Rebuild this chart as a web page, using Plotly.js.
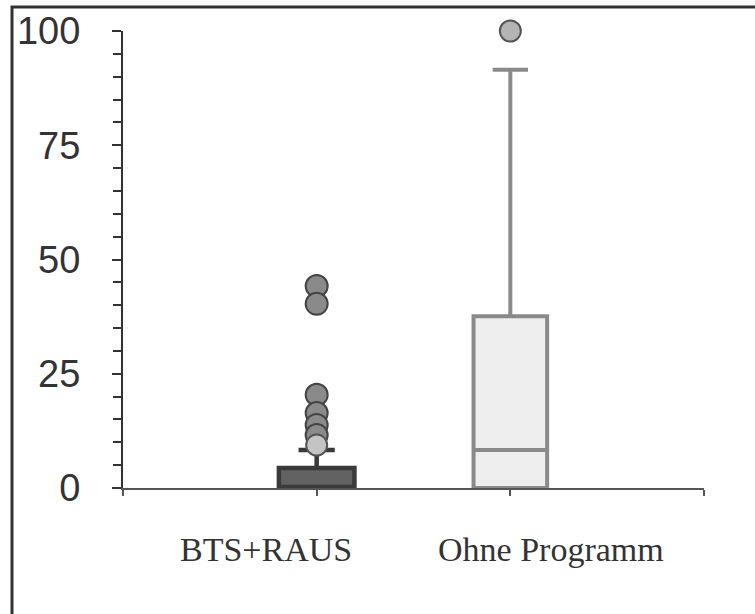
<!DOCTYPE html>
<html>
<head>
<meta charset="utf-8">
<script src="https://cdn.plot.ly/plotly-3.0.1.min.js"></script>
<style>html,body{margin:0;padding:0;background:#fff;}#chart{width:755px;height:614px;}</style>
</head>
<body>
<div id="chart"></div>
<script>
var categories = ['BTS+RAUS', 'Ohne Programm'];
var positions = [1, 2];
var q1 = [0, 0];
var median = [0, 8.3];
var q3 = [4.4, 37.6];
var lowerfence = [0, 0];
var upperfence = [8.3, 91.5];
var outliersBTS = [44.2, 40.3, 20.4, 16.4, 13.8, 11.6];
var outliersBTSLight = [9.4];
var outliersOhne = [100];
var yTicks = [0, 25, 50, 75, 100];

var traces = [
  {type: 'box', x: [positions[0]], q1: [q1[0]], median: [median[0]], q3: [q3[0]],
   lowerfence: [lowerfence[0]], upperfence: [upperfence[0]], width: 0.39,
   fillcolor: '#626262', line: {color: '#3a3a3a', width: 4.5}, whiskerwidth: 0.48,
   boxpoints: false, hoverinfo: 'none', name: categories[0]},
  {type: 'box', x: [positions[1]], q1: [q1[1]], median: [median[1]], q3: [q3[1]],
   lowerfence: [lowerfence[1]], upperfence: [upperfence[1]], width: 0.38,
   fillcolor: '#eeeeee', line: {color: '#8a8a8a', width: 4}, whiskerwidth: 0.48,
   boxpoints: false, hoverinfo: 'none', name: categories[1]},
  {type: 'scatter', mode: 'markers', x: outliersBTS.map(function(){return positions[0];}), y: outliersBTS,
   marker: {size: 22, color: '#8a8a8a', line: {color: '#444', width: 2}}, cliponaxis: false, hoverinfo: 'none'},
  {type: 'scatter', mode: 'markers', x: outliersBTSLight.map(function(){return positions[0];}), y: outliersBTSLight,
   marker: {size: 21, color: '#c4c4c4', line: {color: '#555', width: 2}}, cliponaxis: false, hoverinfo: 'none'},
  {type: 'scatter', mode: 'markers', x: outliersOhne.map(function(){return positions[1];}), y: outliersOhne,
   marker: {size: 21, color: '#b4b4b4', line: {color: '#555', width: 2}}, cliponaxis: false, hoverinfo: 'none'}
];

var W = 581, H = 457, L = 123, T = 31;
function px(x){return (x - L) / W;}
function py(y){return (T + H - y) / H;}

var layout = {
  width: 755, height: 614,
  margin: {l: L, r: 755 - L - W, t: T, b: 614 - T - H, pad: 0},
  paper_bgcolor: '#ffffff', plot_bgcolor: '#ffffff',
  showlegend: false,
  xaxis: {range: [0, 3], tickvals: [0, 1, 2, 3], ticktext: ['', '', '', ''],
    showgrid: false, zeroline: false, showline: true, linecolor: '#555', linewidth: 2,
    ticks: 'outside', ticklen: 6, tickwidth: 2, tickcolor: '#555', fixedrange: true},
  yaxis: {range: [0, 100], tickvals: yTicks, ticktext: yTicks.map(String),
    showgrid: false, zeroline: false, showline: true, linecolor: '#333', linewidth: 2,
    ticks: 'outside', ticklen: 9, tickwidth: 2, tickcolor: '#333',
    minor: {dtick: 5, tick0: 0, ticks: 'outside', ticklen: 8, tickwidth: 2, tickcolor: '#333'},
    ticklabelstandoff: 24,
    tickfont: {family: 'Liberation Sans, Arial, sans-serif', size: 38, color: '#333'}, fixedrange: true},
  annotations: [
    {text: categories[0], xref: 'paper', yref: 'paper', x: px(266), y: py(549), xanchor: 'center', yanchor: 'middle',
     showarrow: false, font: {family: 'Liberation Serif, Times New Roman, serif', size: 34, color: '#333'}},
    {text: categories[1], xref: 'paper', yref: 'paper', x: px(551), y: py(549), xanchor: 'center', yanchor: 'middle',
     showarrow: false, font: {family: 'Liberation Serif, Times New Roman, serif', size: 34, color: '#333'}}
  ],
  shapes: [
    {type: 'rect', xref: 'paper', yref: 'paper', x0: px(12), x1: px(770), y0: py(630), y1: py(7),
     line: {color: '#333', width: 3}, fillcolor: 'rgba(0,0,0,0)', layer: 'below'}
  ]
};

Plotly.newPlot('chart', traces, layout, {staticPlot: true, displayModeBar: false});
</script>
</body>
</html>
